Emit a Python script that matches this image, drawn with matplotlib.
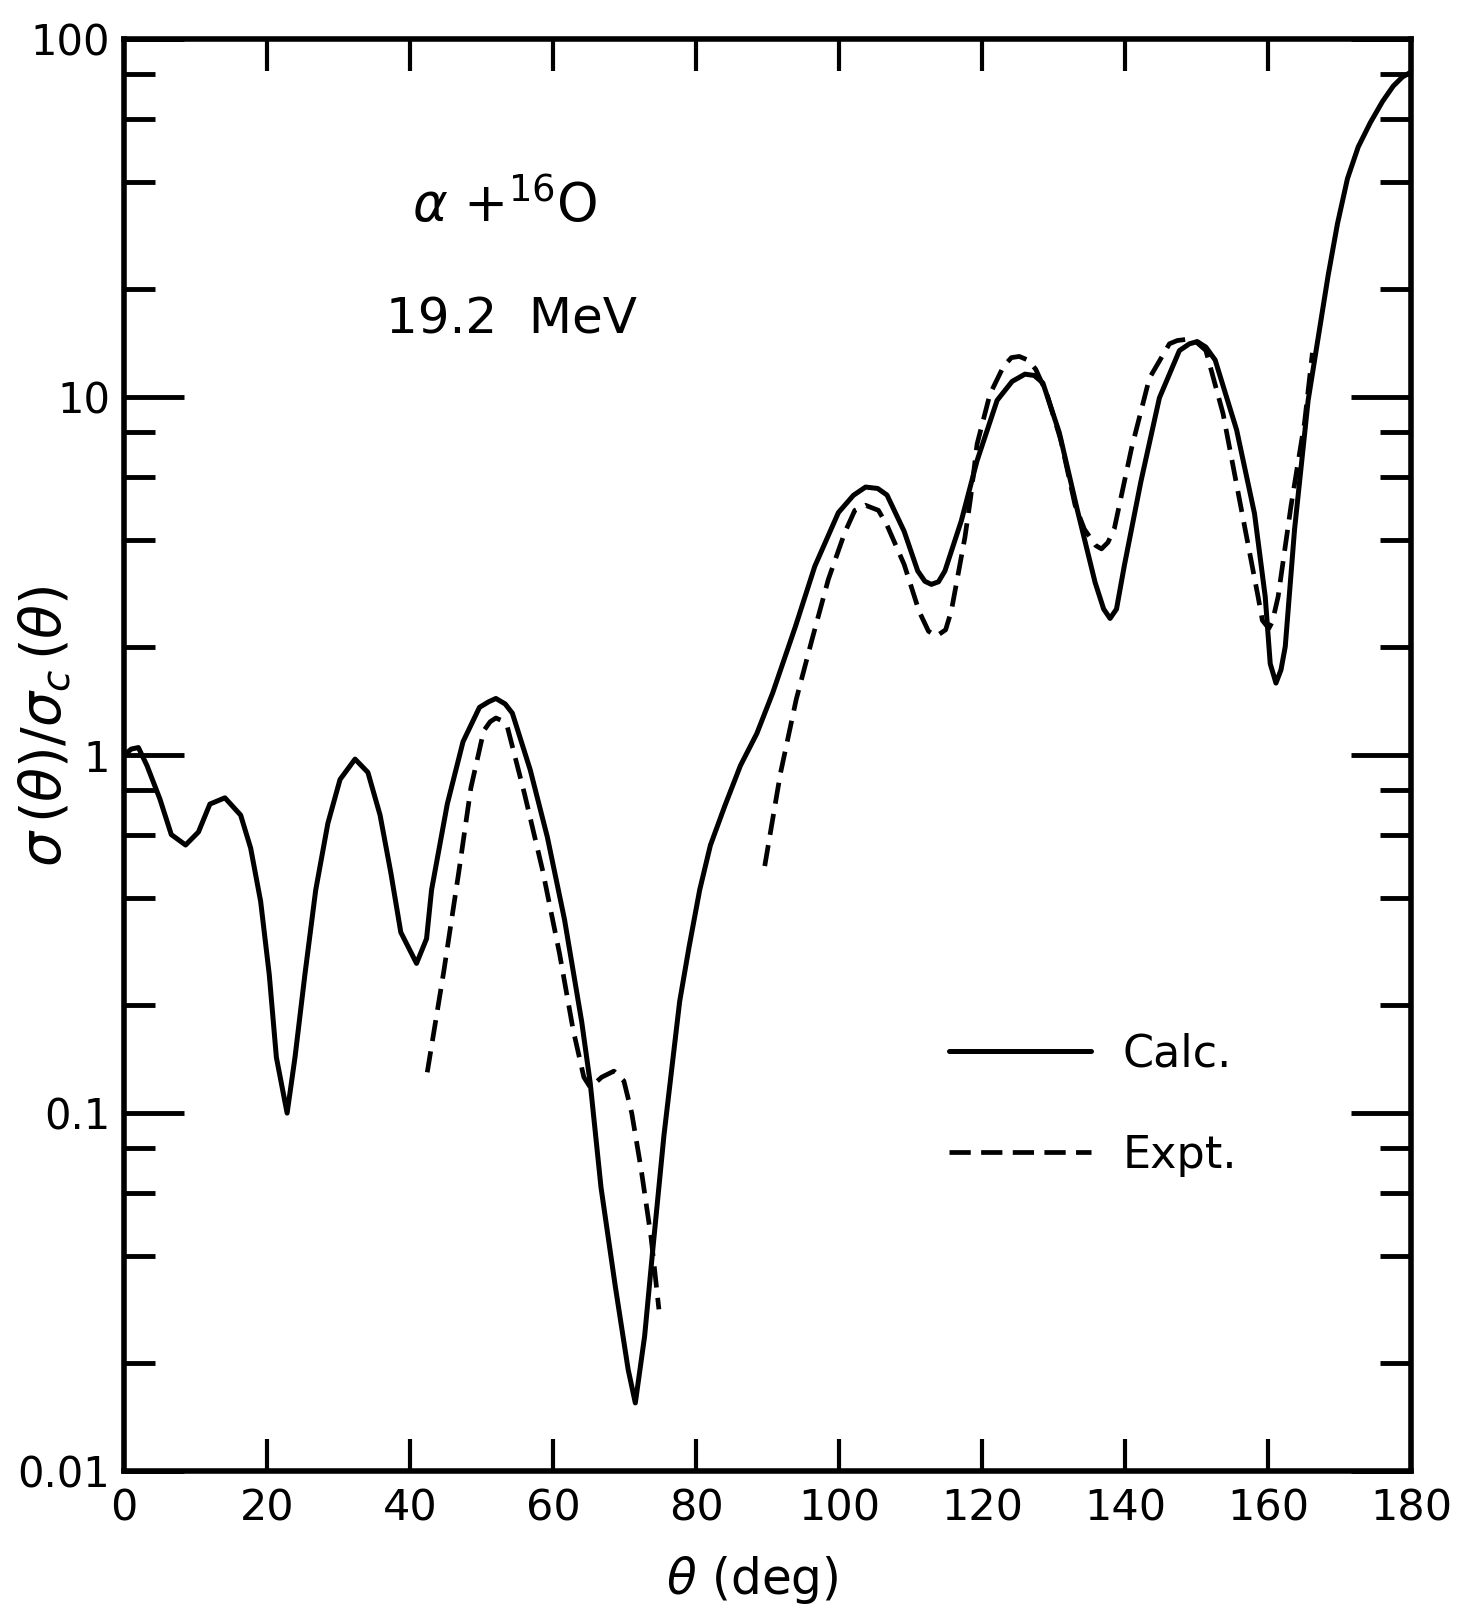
"""
alpha + 16O elastic scattering, 19.2 MeV: sigma/sigma_c vs theta
"""
import matplotlib
matplotlib.use("Agg")
import matplotlib.pyplot as plt
from matplotlib.ticker import FixedLocator, FixedFormatter, LogLocator, NullFormatter

plt.rcParams["font.family"] = ["DejaVu Sans"]
plt.rcParams["mathtext.fontset"] = "dejavusans"

# calculated curve (solid)
calc_theta = [0, 1.0, 2.0, 3.2, 5.0, 6.6, 8.6, 10.4, 12.0, 14.1, 16.3, 17.7, 19.1, 20.3,
              21.3, 22.8, 23.9, 25.3, 26.8, 28.5, 30.2, 32.3, 34.1, 35.8, 37.3, 38.7,
              40.9, 42.3, 43.0, 45.2, 47.4, 49.7, 51.0, 52.0, 53.3, 54.3, 56.8, 59.2,
              61.6, 64.0, 65.2, 66.7, 68.7, 70.5, 71.5, 72.8, 73.9, 75.5, 77.7, 79.0,
              80.5, 82.0, 84.0, 86.2, 88.5, 90.7, 93.9, 96.6, 99.9, 102.0, 103.7, 105.4,
              106.7, 109.1, 111.0, 112.0, 112.9, 113.9, 114.8, 117.1, 119.3, 122.1,
              124.2, 126.0, 127.3, 128.5, 130.8, 133.3, 135.8, 137.0, 137.9, 138.8,
              139.9, 142.2, 144.8, 147.6, 149.0, 150.1, 151.3, 152.6, 155.6, 158.1,
              159.6, 160.3, 161.1, 161.8, 162.4, 163.7, 165.6, 168.4, 169.7, 171.1,
              172.6, 174.3, 176.0, 177.5, 178.8, 180]
calc_ratio = [1.0, 1.04, 1.05, 0.935, 0.755, 0.60, 0.561, 0.61, 0.73, 0.76, 0.68, 0.55,
              0.39, 0.244, 0.143, 0.10, 0.143, 0.245, 0.42, 0.645, 0.855, 0.975, 0.895,
              0.68, 0.47, 0.32, 0.262, 0.307, 0.42, 0.73, 1.09, 1.36, 1.41, 1.44, 1.39,
              1.31, 0.91, 0.59, 0.347, 0.18, 0.121, 0.062, 0.0328, 0.0192, 0.0155,
              0.0238, 0.0407, 0.0865, 0.205, 0.29, 0.42, 0.56, 0.72, 0.935, 1.15, 1.49,
              2.29, 3.37, 4.76, 5.32, 5.61, 5.56, 5.33, 4.22, 3.27, 3.06, 3.0, 3.05, 3.27,
              4.52, 6.65, 9.8, 11.07, 11.6, 11.5, 10.96, 7.96, 4.86, 3.04, 2.56, 2.41,
              2.56, 3.39, 5.8, 9.96, 13.5, 14.1, 14.3, 13.8, 12.7, 8.1, 4.73, 2.77, 1.80,
              1.59, 1.73, 2.01, 4.27, 9.8, 21.9, 30.5, 40.8, 50.0, 58.5, 67.0, 74.0,
              78.5, 81]

# experimental curve (dashed), two pieces
expt1_theta = [42.4, 44.7, 46.8, 48.5, 50.3, 51.2, 52.0, 52.8, 53.6, 56.0, 58.5, 60.9,
               62.8, 64.3, 65.2, 66.8, 68.5, 69.9, 71.0, 72.3, 73.7, 74.8]
expt1_ratio = [0.13, 0.248, 0.47, 0.81, 1.17, 1.24, 1.27, 1.25, 1.20, 0.78, 0.48, 0.279,
               0.171, 0.126, 0.118, 0.126, 0.131, 0.123, 0.100, 0.070, 0.045, 0.0283]
expt2_theta = [89.6, 91.8, 94.0, 96.2, 98.5, 100.8, 102.2, 103.7, 105.5, 106.7, 109.1,
               111.2, 112.5, 113.6, 114.9, 115.7, 117.6, 118.4, 119.3, 121.1, 123.0,
               124.1, 125.2, 126.4, 127.5, 129.0, 131.0, 133.0, 134.3, 135.9, 136.7,
               137.6, 138.5, 140.9, 143.4, 146.2, 147.3, 148.5, 149.9, 151.3, 153.7,
               156.2, 158.6, 159.2, 160.1, 160.6, 161.4, 163.2, 165.1, 166.2]
expt2_ratio = [0.49, 0.89, 1.43, 2.1, 3.1, 4.19, 4.83, 4.99, 4.83, 4.39, 3.41,
               2.52, 2.22, 2.15, 2.24, 2.53, 4.06, 5.25, 7.4, 10.2, 12.2,
               12.9, 13.0, 12.7, 11.97, 10.3, 7.6, 5.0, 4.28, 3.85, 3.77,
               3.93, 4.3, 7.2, 11.3, 14.1, 14.4, 14.5, 14.3, 13.5, 9.0,
               4.93, 2.77, 2.38, 2.26, 2.36, 2.77, 4.96, 8.5, 13.3]

x_ticks = [0, 20, 40, 60, 80, 100, 120, 140, 160, 180]
y_ticks = [0.01, 0.1, 1, 10, 100]
y_ticklabels = ["0.01", "0.1", "1", "10", "100"]

fig = plt.figure(figsize=(14.6, 16.16), dpi=100)
ax = fig.add_axes([0.085, 0.0897, 0.8815, 0.886])

dash = (0, (4.5, 2.2))
ax.plot(calc_theta, calc_ratio, color="black", lw=3.6, solid_joinstyle="round",
        solid_capstyle="round", label="Calc.")
ax.plot(expt1_theta, expt1_ratio, color="black", lw=3.4, ls=dash,
        dash_joinstyle="round", label="Expt.")
ax.plot(expt2_theta, expt2_ratio, color="black", lw=3.4, ls=dash, dash_joinstyle="round")

ax.set_yscale("log")
ax.set_xlim(0, 180)
ax.set_ylim(0.01, 100)

ax.xaxis.set_major_locator(FixedLocator(x_ticks))
ax.yaxis.set_major_locator(FixedLocator(y_ticks))
ax.yaxis.set_major_formatter(FixedFormatter(y_ticklabels))
ax.yaxis.set_minor_locator(LogLocator(base=10, subs=(2, 4, 6, 8)))
ax.yaxis.set_minor_formatter(NullFormatter())

ax.tick_params(axis="x", which="major", direction="in", length=23, width=3,
               top=True, labelsize=31, pad=12)
ax.tick_params(axis="y", which="major", direction="in", length=43, width=3.5,
               right=True, labelsize=30, pad=10)
ax.tick_params(axis="y", which="minor", direction="in", length=22, width=3.5, right=True)
for s in ax.spines.values():
    s.set_linewidth(4)

ax.set_xlabel(r"$\theta$ (deg)", fontsize=35)
ax.xaxis.set_label_coords(0.488, -0.058)
ax.set_ylabel(r"$\sigma\,(\theta)/\sigma_c\,(\theta)$", fontsize=40)
ax.yaxis.set_label_coords(-0.040, 0.52)

ax.text(0.224, 0.883, r"$\alpha$ +$^{16}$O", fontsize=38, va="center", transform=ax.transAxes)
ax.text(0.2036, 0.8045, "19.2  MeV", fontsize=36, va="center", transform=ax.transAxes)

ax.legend(loc="upper left", bbox_to_anchor=(0.61, 0.334), frameon=False, fontsize=32,
          handlelength=3.2, handletextpad=0.7, labelspacing=1.3)

fig.savefig("out.png", dpi=100)
